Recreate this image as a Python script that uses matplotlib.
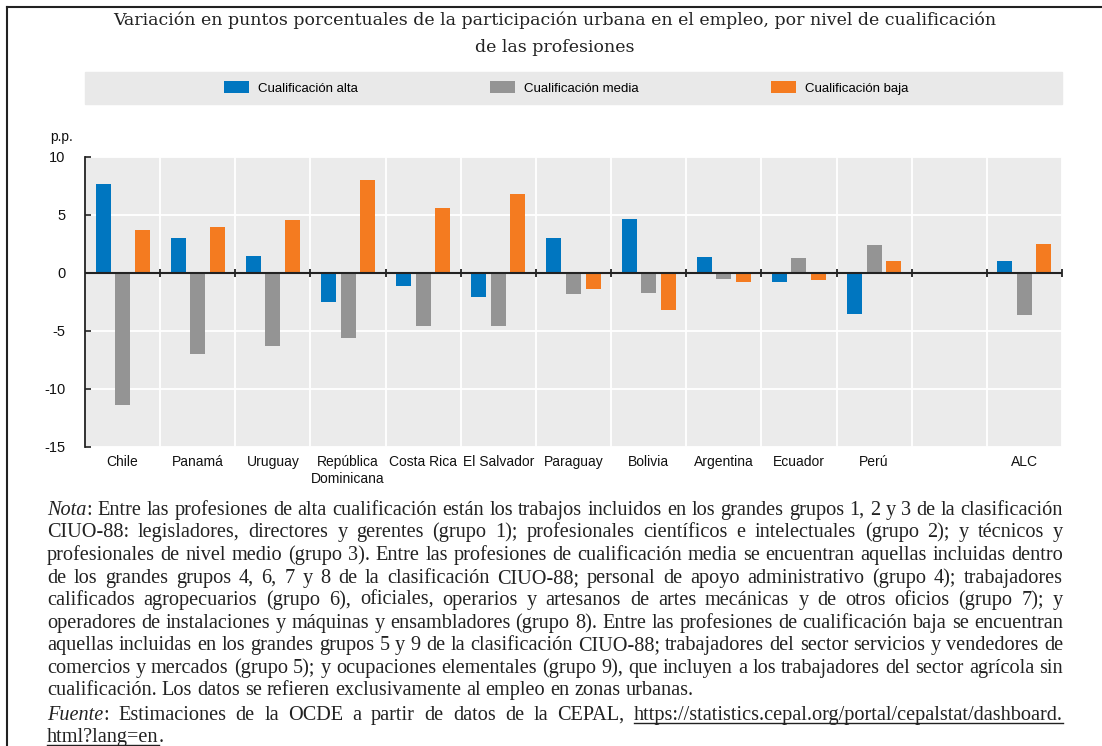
import numpy as np
import matplotlib
matplotlib.use("Agg")
import matplotlib.pyplot as plt
from matplotlib.lines import Line2D
from matplotlib.patches import Patch, Rectangle

plt.rcParams["axes.unicode_minus"] = False

# data
countries = ["Chile", "Panamá", "Uruguay", "República\nDominicana", "Costa Rica",
             "El Salvador", "Paraguay", "Bolivia", "Argentina", "Ecuador", "Perú", "", "ALC"]
alta = [7.7, 3.0, 1.5, -2.5, -1.1, -2.1, 3.05, 4.65, 1.4, -0.8, -3.5, np.nan, 1.0]
media = [-11.4, -7.0, -6.3, -5.6, -4.6, -4.6, -1.8, -1.7, -0.5, 1.3, 2.4, np.nan, -3.6]
baja = [3.7, 4.0, 4.6, 8.05, 5.6, 6.8, -1.4, -3.2, -0.8, -0.6, 1.0, np.nan, 2.5]
series_names = ["Cualificación alta", "Cualificación media", "Cualificación baja"]
yticks = [10, 5, 0, -5, -10, -15]

title_1 = "Variación en puntos porcentuales de la participación urbana en el empleo, por nivel de cualificación"
title_2 = "de las profesiones"

# footnote lines as in the source: _italic_, ~underlined~
note_lines = [
    "_Nota_: Entre las profesiones de alta cualificación están los trabajos incluidos en los grandes grupos 1, 2 y 3 de la clasificación",
    "CIUO-88: legisladores, directores y gerentes (grupo 1); profesionales científicos e intelectuales (grupo 2); y técnicos y",
    "profesionales de nivel medio (grupo 3). Entre las profesiones de cualificación media se encuentran aquellas incluidas dentro",
    "de los grandes grupos 4, 6, 7 y 8 de la clasificación CIUO-88; personal de apoyo administrativo (grupo 4); trabajadores",
    "calificados agropecuarios (grupo 6), oficiales, operarios y artesanos de artes mecánicas y de otros oficios (grupo 7); y",
    "operadores de instalaciones y máquinas y ensambladores (grupo 8). Entre las profesiones de cualificación baja se encuentran",
    "aquellas incluidas en los grandes grupos 5 y 9 de la clasificación CIUO-88; trabajadores del sector servicios y vendedores de",
    "comercios y mercados (grupo 5); y ocupaciones elementales (grupo 9), que incluyen a los trabajadores del sector agrícola sin",
    "cualificación. Los datos se refieren exclusivamente al empleo en zonas urbanas.",
    "_Fuente_: Estimaciones de la OCDE a partir de datos de la CEPAL, ~https://statistics.cepal.org/portal/cepalstat/dashboard.~",
    "~html?lang=en~.",
]
justified = [True] * 8 + [False, True, False]
note_y = [510, 532, 555, 578, 600, 623, 645, 668, 690, 715, 737]

colors = ["#0076c0", "#949494", "#f47b20"]
bg = "#ebebeb"

W, H = 1102, 746
fig = plt.figure(figsize=(W / 100, H / 100), dpi=100)

# outer border (top and left)
fig.add_artist(Line2D([7 / W, 1], [1 - 7 / H, 1 - 7 / H], color="#222222", lw=1.5))
fig.add_artist(Line2D([7 / W, 7 / W], [0, 1 - 7 / H], color="#222222", lw=1.5))

fig.text(555 / W, 1 - 20 / H, title_1, ha="center", va="center",
         fontsize=12.5, family="DejaVu Serif", color="#222222")
fig.text(555 / W, 1 - 47 / H, title_2, ha="center", va="center",
         fontsize=12.5, family="DejaVu Serif", color="#222222")

# legend band
fig.add_artist(Rectangle((85 / W, 1 - 104 / H), (1062 - 85) / W, 32 / H,
                         transform=fig.transFigure, color="#e9e9e9", zorder=0))
handles = [Patch(facecolor=c, edgecolor="none") for c in colors]
fig.legend(handles, series_names, loc="center", bbox_to_anchor=(566 / W, 1 - 88 / H),
           ncol=3, frameon=False, prop={"family": "Liberation Sans", "size": 9.5},
           handlelength=1.9, handleheight=1.05, handletextpad=0.7, columnspacing=10.0)

ax = fig.add_axes([85 / W, 1 - 447 / H, (1062 - 85) / W, (447 - 157) / H])
ax.set_facecolor(bg)
x = np.arange(len(countries))
for i, (vals, c) in enumerate(zip([alta, media, baja], colors)):
    ax.bar(x + (i - 1) * 0.26, vals, width=0.2, color=c, zorder=3)

ax.set_xlim(-0.5, len(countries) - 0.5)
ax.set_ylim(-15, 10)
ax.set_yticks(yticks)
ax.set_xticks(x)
ax.set_xticklabels(countries, family="Liberation Sans", fontsize=10, color="#111111")
ax.set_xticks(np.arange(len(countries) + 1) - 0.5, minor=True)
ax.tick_params(axis="x", which="both", length=0, pad=6)
ax.tick_params(axis="y", direction="in", length=4, width=1.2, color="#222222", pad=14,
               labelsize=10.5, labelcolor="#111111")
for lab in ax.get_yticklabels():
    lab.set_family("Liberation Sans")
ax.grid(axis="y", which="major", color="white", lw=1.3, zorder=0)
ax.grid(axis="x", which="minor", color="white", lw=1.3, zorder=0)
ax.set_axisbelow(True)
for s in ["top", "right", "bottom"]:
    ax.spines[s].set_visible(False)
ax.spines["left"].set_color("#222222")
ax.spines["left"].set_linewidth(1.3)
ax.axhline(0, color="#222222", lw=1.5, zorder=4)
bounds = np.arange(1, len(countries) + 1) - 0.5
ax.plot(bounds, np.zeros(len(bounds)), ls="none", marker="|", ms=6, mew=1.3,
        color="#222222", zorder=4, clip_on=False)
fig.text(62 / W, 1 - 137 / H, "p.p.", ha="center", va="center",
         family="Liberation Sans", fontsize=10, color="#111111")

# footnotes, justified word by word
renderer = fig.canvas.get_renderer()
x0, x1 = 47, 1063
note_fam = "Liberation Serif"
ink = "#222222"


def parse_word(w):
    # split a word into (text, italic, underline) pieces
    pieces = []
    mode = None
    buf = ""
    for ch in w:
        if ch in "_~":
            if buf:
                pieces.append((buf, mode == "_", mode == "~"))
                buf = ""
            mode = None if mode == ch else ch
        else:
            buf += ch
    if buf:
        pieces.append((buf, mode == "_", mode == "~"))
    return pieces


def measure(txt, fs, italic):
    t = fig.text(0, 0, txt, fontsize=fs, family=note_fam, style="italic" if italic else "normal")
    w = t.get_window_extent(renderer).width
    t.remove()
    return w


def word_width(pieces, fs):
    return sum(measure(p[0], fs, p[1]) for p in pieces)


base_fs = 12
space_w = measure("a a", base_fs, False) - measure("aa", base_fs, False)
widest = 0
for line in note_lines:
    words = [parse_word(w) for w in line.split(" ")]
    tw = sum(word_width(w, base_fs) for w in words) + space_w * (len(words) - 1)
    widest = max(widest, tw)
fs = base_fs * (x1 - x0 - 4) / widest
space_w *= fs / base_fs

for line, j, yy in zip(note_lines, justified, note_y):
    words = [parse_word(w) for w in line.split(" ")]
    widths = [word_width(w, fs) for w in words]
    gap = (x1 - x0 - sum(widths)) / (len(words) - 1) if j and len(words) > 1 else space_w
    base = yy + 5
    cx = x0
    for pieces, w in zip(words, widths):
        px = cx
        for txt, it, un in pieces:
            pw = measure(txt, fs, it)
            fig.text(px / W, 1 - base / H, txt, fontsize=fs, family=note_fam, va="baseline",
                     style="italic" if it else "normal", color=ink)
            if un:
                fig.add_artist(Line2D([px / W, (px + pw) / W], [1 - (base + 2.5) / H] * 2,
                                      color=ink, lw=1))
            px += pw
        cx += w + gap

fig.savefig("out.png", dpi=100)
